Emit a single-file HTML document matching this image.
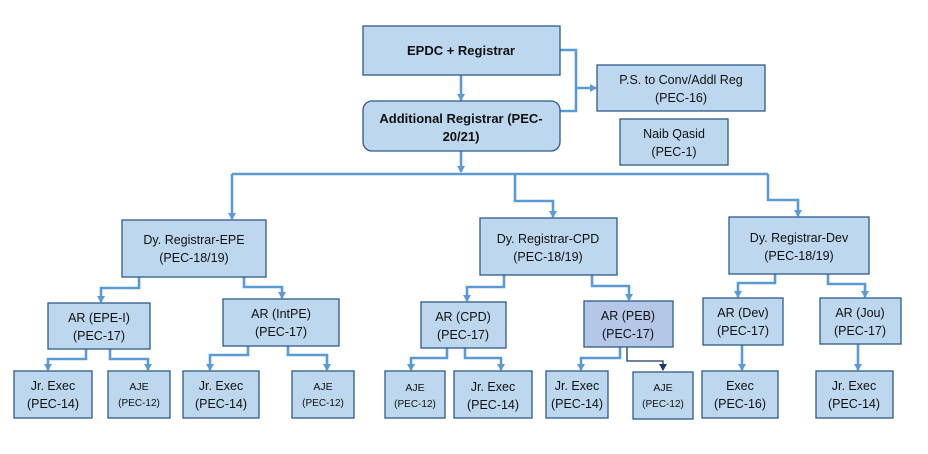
<!DOCTYPE html>
<html><head><meta charset="utf-8"><style>
html,body{margin:0;padding:0;background:#fff}
svg{display:block}
text{font-family:"Liberation Sans",sans-serif;fill:#111;text-anchor:middle}
.b{fill:#bdd7ee;stroke:#2f5b8a;stroke-width:1.3}
.l{fill:none;stroke:#5b9bd5;stroke-width:2.6}
.a{fill:#5b9bd5}
</style></head><body>
<svg width="928" height="454" viewBox="0 0 928 454" xmlns="http://www.w3.org/2000/svg">
<defs>
<marker id="ar" markerWidth="6" markerHeight="6" refX="3" refY="5" orient="auto" markerUnits="userSpaceOnUse" viewBox="0 0 6 6"><path d="M0,0 L6,0 L3,6Z" fill="#5b9bd5"/></marker>
<marker id="ad" markerWidth="7" markerHeight="7" refX="3.5" refY="6" orient="auto" markerUnits="userSpaceOnUse" viewBox="0 0 7 7"><path d="M0,0 L7,0 L3.5,7Z" fill="#1f3864"/></marker>
<marker id="ar2" markerWidth="6" markerHeight="6" refX="5" refY="3" orient="auto" markerUnits="userSpaceOnUse" viewBox="0 0 6 6"><path d="M0,0 L6,3 L0,6Z" fill="#5b9bd5"/></marker>
</defs>
<!-- connectors -->
<g class="l">
<path d="M461,75 V101" marker-end="url(#ar)" style="marker-end:none"/>
<path d="M560,50 H576 V111 H560"/>
<path d="M576,88 H596"/>
<path d="M461,151 V172"/>
<path d="M232,174 H768"/>
<path d="M232,174 V219"/>
<path d="M515,174 V201 H553 V217"/>
<path d="M768,174 V200 H798 V216"/>
<path d="M139,277 V288 H101 V302"/>
<path d="M244,277 V287 H282 V298"/>
<path d="M86,349 V359 H48 V370"/>
<path d="M110,349 V359 H148 V370"/>
<path d="M248,346 V355 H210 V370"/>
<path d="M288,346 V355 H327 V370"/>
<path d="M504,275 V287 H467 V301"/>
<path d="M592,275 V286 H629 V300"/>
<path d="M447,348 V358 H411 V370"/>
<path d="M465,348 V358 H501 V370"/>
<path d="M620,347 V358 H581 V370"/>
<path d="M775,274 V283 H738 V297"/>
<path d="M828,274 V284 H865 V297"/>
<path d="M742,345 V370"/>
<path d="M858,344 V370"/>
</g>
<path d="M627,347 V361 H663 V370" fill="none" stroke="#1f3864" stroke-width="1.3"/>
<g class="a">
<path d="M457,94 L465,94 L461,101Z"/>
<path d="M590,84 L597,88 L590,92Z"/>
<path d="M457,166 L465,166 L461,173Z"/>
<path d="M228,213 L236,213 L232,220Z"/>
<path d="M549,211 L557,211 L553,218Z"/>
<path d="M794,210 L802,210 L798,217Z"/>
<path d="M97,296 L105,296 L101,303Z"/>
<path d="M278,292 L286,292 L282,299Z"/>
<path d="M44,364 L52,364 L48,371Z"/>
<path d="M144,364 L152,364 L148,371Z"/>
<path d="M206,364 L214,364 L210,371Z"/>
<path d="M323,364 L331,364 L327,371Z"/>
<path d="M463,295 L471,295 L467,302Z"/>
<path d="M625,294 L633,294 L629,301Z"/>
<path d="M407,364 L415,364 L411,371Z"/>
<path d="M497,364 L505,364 L501,371Z"/>
<path d="M577,364 L585,364 L581,371Z"/>
<path d="M734,291 L742,291 L738,298Z"/>
<path d="M861,291 L869,291 L865,298Z"/>
<path d="M738,364 L746,364 L742,371Z"/>
<path d="M854,364 L862,364 L858,371Z"/>
</g>
<path d="M659,364 L667,364 L663,371Z" fill="#1f3864"/>
<!-- boxes -->
<rect class="b" x="363" y="26" width="197" height="49"/>
<text x="461" y="55" font-size="13" font-weight="bold">EPDC + Registrar</text>
<rect class="b" x="363" y="101" width="197" height="50" rx="9"/>
<text x="461" y="123" font-size="13" font-weight="bold">Additional Registrar (PEC-</text>
<text x="461" y="141" font-size="13" font-weight="bold">20/21)</text>
<rect class="b" x="597" y="65" width="168" height="46"/>
<text x="681" y="84" font-size="12.5">P.S. to Conv/Addl Reg</text>
<text x="681" y="102" font-size="12.5">(PEC-16)</text>
<rect class="b" x="620" y="119" width="108" height="46"/>
<text x="674" y="138" font-size="12.5">Naib Qasid</text>
<text x="674" y="156" font-size="12.5">(PEC-1)</text>

<rect class="b" x="122" y="220" width="144" height="57"/>
<text x="194" y="244" font-size="12.5">Dy. Registrar-EPE</text>
<text x="194" y="262" font-size="12.5">(PEC-18/19)</text>
<rect class="b" x="480" y="218" width="137" height="57"/>
<text x="548" y="243" font-size="12.5">Dy. Registrar-CPD</text>
<text x="548" y="261" font-size="12.5">(PEC-18/19)</text>
<rect class="b" x="729" y="217" width="140" height="57"/>
<text x="799" y="242" font-size="12.5">Dy. Registrar-Dev</text>
<text x="799" y="260" font-size="12.5">(PEC-18/19)</text>

<rect class="b" x="48" y="303" width="102" height="46"/>
<text x="99" y="322" font-size="12.5">AR (EPE-I)</text>
<text x="99" y="340" font-size="12.5">(PEC-17)</text>
<rect class="b" x="223" y="299" width="116" height="47"/>
<text x="281" y="318" font-size="12.5">AR (IntPE)</text>
<text x="281" y="336" font-size="12.5">(PEC-17)</text>
<rect class="b" x="421" y="302" width="85" height="46"/>
<text x="463" y="321" font-size="12.5">AR (CPD)</text>
<text x="463" y="339" font-size="12.5">(PEC-17)</text>
<rect x="584" y="301" width="89" height="46" fill="#b4c7e7" stroke="#2f5b8a" stroke-width="1.3"/>
<text x="628" y="320" font-size="12.5">AR (PEB)</text>
<text x="628" y="338" font-size="12.5">(PEC-17)</text>
<rect class="b" x="703" y="298" width="80" height="47"/>
<text x="743" y="317" font-size="12.5">AR (Dev)</text>
<text x="743" y="335" font-size="12.5">(PEC-17)</text>
<rect class="b" x="820" y="298" width="81" height="46"/>
<text x="860" y="317" font-size="12.5">AR (Jou)</text>
<text x="860" y="335" font-size="12.5">(PEC-17)</text>

<rect class="b" x="14" y="371" width="78" height="47"/>
<text x="53" y="390" font-size="12.5">Jr. Exec</text>
<text x="53" y="408" font-size="12.5">(PEC-14)</text>
<rect class="b" x="108" y="371" width="62" height="47"/>
<text x="139" y="390" font-size="10.5">AJE</text>
<text x="139" y="406" font-size="10">(PEC-12)</text>
<rect class="b" x="183" y="371" width="76" height="47"/>
<text x="221" y="390" font-size="12.5">Jr. Exec</text>
<text x="221" y="408" font-size="12.5">(PEC-14)</text>
<rect class="b" x="292" y="371" width="62" height="47"/>
<text x="323" y="390" font-size="10.5">AJE</text>
<text x="323" y="406" font-size="10">(PEC-12)</text>
<rect class="b" x="385" y="371" width="60" height="47"/>
<text x="415" y="391" font-size="10.5">AJE</text>
<text x="415" y="407" font-size="10">(PEC-12)</text>
<rect class="b" x="454" y="371" width="78" height="47"/>
<text x="493" y="391" font-size="12.5">Jr. Exec</text>
<text x="493" y="409" font-size="12.5">(PEC-14)</text>
<rect class="b" x="546" y="371" width="62" height="47"/>
<text x="590" y="390" font-size="12.5" style="text-anchor:middle" transform="translate(-13,0)">Jr. Exec</text>
<text x="577" y="408" font-size="12.5">(PEC-14)</text>
<rect class="b" x="633" y="372" width="60" height="47"/>
<text x="663" y="391" font-size="10.5">AJE</text>
<text x="663" y="407" font-size="10">(PEC-12)</text>
<rect class="b" x="702" y="371" width="76" height="47"/>
<text x="740" y="390" font-size="12.5">Exec</text>
<text x="740" y="408" font-size="12.5">(PEC-16)</text>
<rect class="b" x="816" y="371" width="77" height="47"/>
<text x="854" y="390" font-size="12.5">Jr. Exec</text>
<text x="854" y="408" font-size="12.5">(PEC-14)</text>
</svg>
</body></html>
